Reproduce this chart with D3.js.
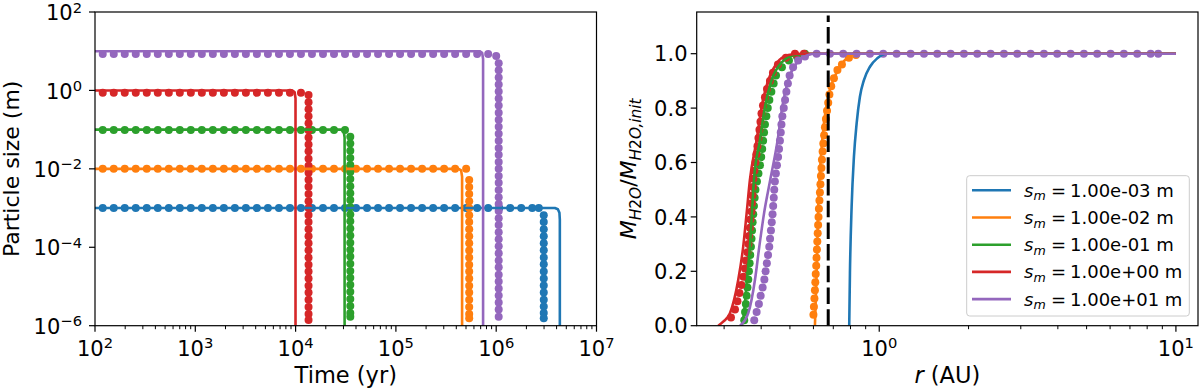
<!DOCTYPE html>
<html><head><meta charset="utf-8">
<script src="https://cdn.jsdelivr.net/npm/d3@7"></script>
<style>body{margin:0;background:#fff;}svg{display:block;}text{font-family:"DejaVu Sans",sans-serif;fill:#000;}</style>
</head><body><svg id="chart" width="1200" height="390"></svg>
<script>
// ---------------- DATA ----------------
const seriesLabels = ["1.00e-03","1.00e-02","1.00e-01","1.00e+00","1.00e+01"];
const seriesColors = ["#1f77b4","#ff7f0e","#2ca02c","#d62728","#9467bd"];

// Left panel: model curves [time (yr), size (m)]
const lineBlue   = [[1e2,1e-3],[3.85e6,1e-3],[4.12e6,9.33e-4],[4.27e6,7.59e-4],[4.31e6,5.01e-4],[4.31e6,1e-8]];
const lineOrange = [[1e2,1e-2],[4.22e5,1e-2],[4.47e5,9.12e-3],[4.57e5,6.31e-3],[4.57e5,1e-8]];
const lineGreen  = [[1e2,0.1],[2.85e4,0.1],[3.02e4,0.0912],[3.08e4,0.0631],[3.08e4,1e-8]];
const lineRed    = [[1e2,1],[9.23e3,1],[9.77e3,0.912],[9.98e3,0.631],[9.98e3,1e-8]];
const linePurple = [[1e2,10],[6.84e5,10],[7.24e5,9.12],[7.40e5,6.31],[7.40e5,1e-8]];

// Left panel: simulation outputs (dots)
const timeGrid = [119.4,153.8,198.0,254.9,328.2,422.7,544.2,700.8,902.5,1162,1496,1927,2481,3194,4113,5297,6820,8782,
  1.131e4,1.456e4,1.875e4,2.414e4,3.109e4,4.003e4,5.155e4,6.637e4,8.546e4,1.100e5,1.417e5,1.825e5,2.350e5,3.025e5,
  3.896e5,5.017e5,6.459e5,8.318e5,1.071e6,1.379e6,1.776e6,2.287e6];
const plateauCount = [40, 34, 23, 19, 36];
const plateauSize  = [1e-3, 1e-2, 0.098, 0.87, 8.5];
const cornerDots   = [[[2.66e6,1e-3]], [], [], [], [[1.0e6,7.6]]];
const columnTime   = [2.98e6, 5.38e5, 3.51e4, 1.346e4, 1.059e6];
const columnBlue   = [6.6e-4,4.4e-4,2.9e-4,1.9e-4,1.27e-4,8.4e-5,5.5e-5,3.7e-5,2.4e-5,1.6e-5,1.06e-5,7.0e-6,4.6e-6,3.1e-6,2.1e-6,1.55e-6];
const columnOrange = [5.2e-3,3.45e-3,2.3e-3,1.5e-3,1.0e-3,6.6e-4,4.4e-4,2.9e-4,1.9e-4,1.26e-4,8.3e-5,5.5e-5,3.6e-5,2.4e-5,1.6e-5,1.05e-5,7.0e-6,4.6e-6,3.0e-6,2.0e-6,1.55e-6];
const columnGreen  = [0.066,0.044,0.029,0.019,0.0126,8.3e-3,5.5e-3,3.6e-3,2.4e-3,1.6e-3,1.05e-3,6.9e-4,4.6e-4,3.0e-4,2.0e-4,1.3e-4,8.7e-5,5.8e-5,3.8e-5,2.5e-5,1.66e-5,1.1e-5,7.3e-6,4.8e-6,3.2e-6,2.1e-6,1.7e-6];
const columnRed    = [0.76,0.50,0.33,0.22,0.145,0.096,0.063,0.042,0.028,0.018,0.012,8.0e-3,5.3e-3,3.5e-3,2.3e-3,1.5e-3,1.0e-3,6.7e-4,4.4e-4,2.9e-4,1.9e-4,1.27e-4,8.4e-5,5.5e-5,3.6e-5,2.4e-5,1.6e-5,1.05e-5,7.0e-6,4.6e-6,3.0e-6,2.0e-6,1.4e-6];
const columnPurple = [4.9,3.25,2.15,1.42,0.94,0.62,0.41,0.27,0.18,0.119,0.079,0.052,0.034,0.023,0.015,0.0100,6.6e-3,4.4e-3,2.9e-3,1.9e-3,1.27e-3,8.4e-4,5.5e-4,3.7e-4,2.4e-4,1.6e-4,1.06e-4,7.0e-5,4.6e-5,3.1e-5,2.0e-5,1.35e-5,8.9e-6,5.9e-6,3.9e-6,2.6e-6,1.7e-6];

// Right panel: model curves [r (AU), M/M_init]
const rLineBlue   = [[0.7922,0],[0.7966,0.193],[0.8071,0.4375],[0.8217,0.621],[0.8391,0.744],[0.8607,0.842],[0.8880,0.903],[0.9303,0.952],[0.9846,0.983],[1.0591,1.0],[10,1.0]];
const rLineOrange = [[0.6070,0],[0.6150,0.193],[0.6228,0.4375],[0.6359,0.621],[0.6509,0.744],[0.6730,0.842],[0.6998,0.903],[0.7372,0.952],[0.7766,0.983],[0.8391,1.0],[10,1.0]];
const rLineGreen  = [[0.3445,0],[0.3499,0.046],[0.3581,0.168],[0.3665,0.29],[0.3723,0.413],[0.3781,0.536],[0.3963,0.683],[0.4119,0.805],[0.4338,0.903],[0.4664,0.965],[0.5199,0.995],[0.5750,1.0],[10,1.0]];
const rLineRed    = [[0.2866,0],[0.2979,0.015],[0.3139,0.046],[0.3347,0.168],[0.3479,0.29],[0.3573,0.413],[0.3665,0.536],[0.3862,0.683],[0.4015,0.805],[0.4225,0.903],[0.4510,0.965],[0.4934,0.995],[0.5477,1.0],[10,1.0]];
const rLinePurple = [[0.3393,0],[0.3618,0.046],[0.3811,0.168],[0.3941,0.29],[0.4090,0.413],[0.4281,0.53],[0.4546,0.683],[0.4712,0.805],[0.4935,0.903],[0.5265,0.965],[0.5763,0.995],[0.6070,1.0],[10,1.0]];

// Right panel: simulation outputs (dots)
const rDotsBlue = [];
const rDotsOrange = [[0.6000,0.04],[0.6023,0.07],[0.6047,0.10],[0.6070,0.13],[0.6089,0.16],[0.6108,0.19],[0.6132,0.22],[0.6146,0.25],[0.6165,0.28],[0.6184,0.31],[0.6203,0.34],[0.6223,0.37],[0.6242,0.40],[0.6261,0.43],[0.6286,0.46],[0.6310,0.49],[0.6335,0.52],[0.6359,0.55],[0.6384,0.58],[0.6409,0.61],[0.6444,0.64],[0.6479,0.67],[0.6519,0.70],[0.6560,0.73],[0.6611,0.76],[0.6668,0.79],[0.6730,0.82],[0.6793,0.85],[0.6889,0.88],[0.7035,0.91],[0.7229,0.94],[0.7486,0.96],[0.7903,0.985],[0.8347,0.995]];
const rDotsGreen = [[0.3507,0.02],[0.3529,0.05],[0.3551,0.08],[0.3573,0.11],[0.3595,0.14],[0.3618,0.17],[0.3637,0.20],[0.3657,0.23],[0.3674,0.26],[0.3694,0.29],[0.3711,0.32],[0.3726,0.35],[0.3743,0.38],[0.3761,0.41],[0.3781,0.44],[0.3802,0.47],[0.3826,0.50],[0.3871,0.53],[0.3916,0.56],[0.3963,0.59],[0.4000,0.62],[0.4032,0.65],[0.4061,0.68],[0.4090,0.71],[0.4119,0.74],[0.4164,0.77],[0.4210,0.80],[0.4262,0.83],[0.4329,0.86],[0.4407,0.89],[0.4488,0.92],[0.4699,0.95],[0.4962,0.975],[0.5280,0.99],[0.5619,1.0]];
const rDotsRed = [[0.3164,0.03],[0.3264,0.06],[0.3327,0.09],[0.3379,0.12],[0.3432,0.15],[0.3485,0.18],[0.3526,0.21],[0.3553,0.24],[0.3595,0.27],[0.3623,0.30],[0.3637,0.33],[0.3665,0.36],[0.3680,0.39],[0.3709,0.42],[0.3723,0.45],[0.3737,0.48],[0.3752,0.51],[0.3767,0.54],[0.3796,0.57],[0.3826,0.60],[0.3855,0.63],[0.3886,0.66],[0.3916,0.69],[0.3947,0.72],[0.3978,0.75],[0.4009,0.78],[0.4056,0.81],[0.4119,0.84],[0.4184,0.87],[0.4281,0.90],[0.4382,0.93],[0.4556,0.96],[0.4847,0.985],[0.5199,1.0],[0.5573,1.0]];
const rDotsPurple = [[0.3790,0.02],[0.3861,0.05],[0.3929,0.08],[0.3984,0.11],[0.4045,0.14],[0.4100,0.17],[0.4138,0.20],[0.4180,0.23],[0.4219,0.26],[0.4259,0.29],[0.4285,0.32],[0.4315,0.35],[0.4342,0.38],[0.4369,0.41],[0.4390,0.44],[0.4410,0.47],[0.4427,0.50],[0.4448,0.53],[0.4483,0.56],[0.4521,0.59],[0.4560,0.62],[0.4595,0.65],[0.4627,0.68],[0.4656,0.71],[0.4681,0.74],[0.4714,0.77],[0.4766,0.80],[0.4815,0.83],[0.4864,0.86],[0.4922,0.89],[0.4988,0.92],[0.5124,0.95],[0.5330,0.975],[0.5619,0.99],
  [0.6152,1.0],[0.6820,1.0],[0.7561,1.0],[0.8389,1.0],[0.9304,1.0],[1.0316,1.0],[1.1445,1.0],[1.2757,1.0],[1.4151,1.0],[1.5689,1.0],[1.7404,1.0],[1.9295,1.0],[2.1397,1.0],[2.3742,1.0],[2.6328,1.0],[2.9189,1.0],[3.2381,1.0],[3.5907,1.0],[3.9802,1.0],[4.4167,1.0],[4.8973,1.0],[5.4290,1.0],[6.0241,1.0],[6.6788,1.0],[7.4064,1.0],[8.2187,1.0],[8.7170,1.0]];

const snowLineR = 0.673;
const snowLineTop = 1.14;

const leftXTicks = [1e2,1e3,1e4,1e5,1e6,1e7];
const leftYTicks = [1e-6,1e-4,1e-2,1e0,1e2];
const rightXTicks = [1e0,1e1];
const rightYTicks = [0,0.2,0.4,0.6,0.8,1.0];

// ---------------- DRAW ----------------
const svg = d3.select("#chart");
const TICK_FS = 21, LABEL_FS = 22, LEG_FS = 18;

const L = {x0:95, x1:596.5, y0:12, y1:325.7};
const R = {x0:696.7, x1:1198, y0:12, y1:325.7};

const xL = d3.scaleLog().domain([1e2,1e7]).range([L.x0,L.x1]);
const yL = d3.scaleLog().domain([1e-6,1e2]).range([L.y1,L.y0]);
const xR = d3.scaleLog().domain([0.2425,11.87]).range([R.x0,R.x1]);
const yR = d3.scaleLinear().domain([0,1.1533]).range([R.y1,R.y0]);

const defs = svg.append("defs");
defs.append("clipPath").attr("id","clipL").append("rect").attr("x",L.x0).attr("y",L.y0).attr("width",L.x1-L.x0).attr("height",L.y1-L.y0);
defs.append("clipPath").attr("id","clipR").append("rect").attr("x",R.x0).attr("y",R.y0).attr("width",R.x1-R.x0).attr("height",R.y1-R.y0);

function powLabel(g, x, y, exp, anchor) {
  const t = g.append("text").attr("x",x).attr("y",y).attr("text-anchor",anchor).attr("font-size",TICK_FS);
  t.append("tspan").text("10");
  t.append("tspan").attr("font-size",TICK_FS*0.7).attr("dy",-TICK_FS*0.36).text(exp<0 ? "\u2212"+(-exp) : String(exp));
}

// ---- Left panel ----
const gL = svg.append("g");
const plotL = gL.append("g").attr("clip-path","url(#clipL)");
const columns = [columnBlue, columnOrange, columnGreen, columnRed, columnPurple];
const leftLines = [lineBlue, lineOrange, lineGreen, lineRed, linePurple];
const DOT_R = 4;

seriesColors.forEach((c,i) => {
  const pts = [];
  timeGrid.slice(0, plateauCount[i]).forEach(t => pts.push([t, plateauSize[i]]));
  cornerDots[i].forEach(p => pts.push(p));
  columns[i].forEach(s => pts.push([columnTime[i], s]));
  plotL.append("g").selectAll("circle").data(pts).join("circle")
    .attr("cx", d => xL(d[0])).attr("cy", d => yL(d[1])).attr("r", DOT_R).attr("fill", c);
});
const lineGenL = d3.line().x(d => xL(d[0])).y(d => yL(d[1]));
leftLines.forEach((ln,i) => {
  plotL.append("path").attr("d", lineGenL(ln)).attr("fill","none").attr("stroke",seriesColors[i])
    .attr("stroke-width",2.6).attr("stroke-linejoin","round");
});

// ticks left
const minorL = [];
for (let e = 2; e < 7; e++) for (let m = 2; m <= 9; m++) minorL.push(m * Math.pow(10, e));
gL.append("g").selectAll("line").data(minorL).join("line")
  .attr("x1", d => xL(d)).attr("x2", d => xL(d)).attr("y1", L.y1).attr("y2", L.y1 + 3.5)
  .attr("stroke","#000").attr("stroke-width",1);
gL.append("g").selectAll("line").data(leftXTicks).join("line")
  .attr("x1", d => xL(d)).attr("x2", d => xL(d)).attr("y1", L.y1).attr("y2", L.y1 + 6)
  .attr("stroke","#000").attr("stroke-width",1.2);
gL.append("g").selectAll("line").data(leftYTicks).join("line")
  .attr("y1", d => yL(d)).attr("y2", d => yL(d)).attr("x1", L.x0 - 6).attr("x2", L.x0)
  .attr("stroke","#000").attr("stroke-width",1.2);
leftXTicks.forEach(v => powLabel(gL, xL(v), 355.5, Math.round(Math.log10(v)), "middle"));
leftYTicks.forEach(v => powLabel(gL, 82, yL(v) + TICK_FS*0.39, Math.round(Math.log10(v)), "end"));
gL.append("rect").attr("x",L.x0).attr("y",L.y0).attr("width",L.x1-L.x0).attr("height",L.y1-L.y0)
  .attr("fill","none").attr("stroke","#000").attr("stroke-width",1.2);
gL.append("text").attr("x",(L.x0+L.x1)/2).attr("y",383).attr("text-anchor","middle").attr("font-size",22.5).text("Time (yr)");
gL.append("text").attr("transform",`translate(18.5,${(L.y0+L.y1)/2}) rotate(-90)`).attr("text-anchor","middle")
  .attr("font-size",LABEL_FS).text("Particle size (m)");

// ---- Right panel ----
const gR = svg.append("g");
const plotR = gR.append("g").attr("clip-path","url(#clipR)");
const rDots = [rDotsBlue, rDotsOrange, rDotsGreen, rDotsRed, rDotsPurple];
const rLines = [rLineBlue, rLineOrange, rLineGreen, rLineRed, rLinePurple];
rDots.forEach((pts,i) => {
  plotR.append("g").selectAll("circle").data(pts).join("circle")
    .attr("cx", d => xR(d[0])).attr("cy", d => yR(d[1])).attr("r", DOT_R).attr("fill", seriesColors[i]);
});
const lineGenR = d3.line().x(d => xR(d[0])).y(d => yR(d[1])).curve(d3.curveMonotoneX);
rLines.forEach((ln,i) => {
  plotR.append("path").attr("d", lineGenR(ln)).attr("fill","none").attr("stroke",seriesColors[i])
    .attr("stroke-width",2.6).attr("stroke-linejoin","round");
});
plotR.append("line").attr("x1",xR(snowLineR)).attr("x2",xR(snowLineR)).attr("y1",yR(0)).attr("y2",yR(snowLineTop))
  .attr("stroke","#000").attr("stroke-width",3).attr("stroke-dasharray","16.5,5.2");

const minorR = [0.3,0.4,0.5,0.6,0.7,0.8,0.9,2,3,4,5,6,7,8,9];
gR.append("g").selectAll("line").data(minorR).join("line")
  .attr("x1", d => xR(d)).attr("x2", d => xR(d)).attr("y1", R.y1).attr("y2", R.y1 + 3.5)
  .attr("stroke","#000").attr("stroke-width",1);
gR.append("g").selectAll("line").data(rightXTicks).join("line")
  .attr("x1", d => xR(d)).attr("x2", d => xR(d)).attr("y1", R.y1).attr("y2", R.y1 + 6)
  .attr("stroke","#000").attr("stroke-width",1.2);
gR.append("g").selectAll("line").data(rightYTicks).join("line")
  .attr("y1", d => yR(d)).attr("y2", d => yR(d)).attr("x1", R.x0 - 6).attr("x2", R.x0)
  .attr("stroke","#000").attr("stroke-width",1.2);
rightXTicks.forEach(v => powLabel(gR, xR(v), 355.5, Math.round(Math.log10(v)), "middle"));
gR.append("g").selectAll("text").data(rightYTicks).join("text")
  .attr("x", 687.5).attr("y", d => yR(d) + TICK_FS*0.37).attr("text-anchor","end").attr("font-size",TICK_FS)
  .text(d => d.toFixed(1));
gR.append("rect").attr("x",R.x0).attr("y",R.y0).attr("width",R.x1-R.x0).attr("height",R.y1-R.y0)
  .attr("fill","none").attr("stroke","#000").attr("stroke-width",1.2);

// x label "r (AU)"
const xlab = gR.append("text").attr("x",(R.x0+R.x1)/2).attr("y",383).attr("text-anchor","middle").attr("font-size",22.5);
xlab.append("tspan").attr("font-style","italic").text("r");
xlab.append("tspan").text(" (AU)");

// y label M_H2O / M_H2O,init
const ylab = gR.append("text").attr("transform",`translate(636,${(R.y0+R.y1)/2}) rotate(-90)`).attr("text-anchor","middle")
  .attr("font-size",LABEL_FS);
const SUB = LABEL_FS*0.7, SD = LABEL_FS*0.22;
function subParts(t) {
  t.append("tspan").attr("font-size",SUB).attr("font-style","italic").attr("dy",SD).text("H");
  t.append("tspan").attr("font-size",SUB).text("2");
  t.append("tspan").attr("font-size",SUB).attr("font-style","italic").text("O");
}
ylab.append("tspan").attr("font-style","italic").text("M");
subParts(ylab);
ylab.append("tspan").attr("dy",-SD).text("/");
ylab.append("tspan").attr("font-style","italic").text("M");
subParts(ylab);
ylab.append("tspan").attr("font-size",SUB).attr("font-style","italic").text(",init");

// legend
const leg = gR.append("g");
leg.append("rect").attr("x",966.7).attr("y",175.7).attr("width",222.6).attr("height",140.3).attr("rx",3)
  .attr("fill","#fff").attr("fill-opacity",0.8).attr("stroke","#cccccc").attr("stroke-width",1);
seriesLabels.forEach((lab,i) => {
  const y = 190.3 + i*27.2;
  leg.append("line").attr("x1",972).attr("x2",1011).attr("y1",y).attr("y2",y)
    .attr("stroke",seriesColors[i]).attr("stroke-width",2.6);
  const by = y + LEG_FS*0.36;
  leg.append("text").attr("x",1024).attr("y",by).attr("font-size",LEG_FS).attr("font-style","italic").text("s");
  leg.append("text").attr("x",1033.5).attr("y",by+LEG_FS*0.2).attr("font-size",LEG_FS*0.7).attr("font-style","italic").text("m");
  leg.append("text").attr("x",1051).attr("y",by).attr("font-size",LEG_FS).text("=");
  leg.append("text").attr("x",1070).attr("y",by).attr("font-size",LEG_FS).text(lab + " m");
});
</script></body></html>
